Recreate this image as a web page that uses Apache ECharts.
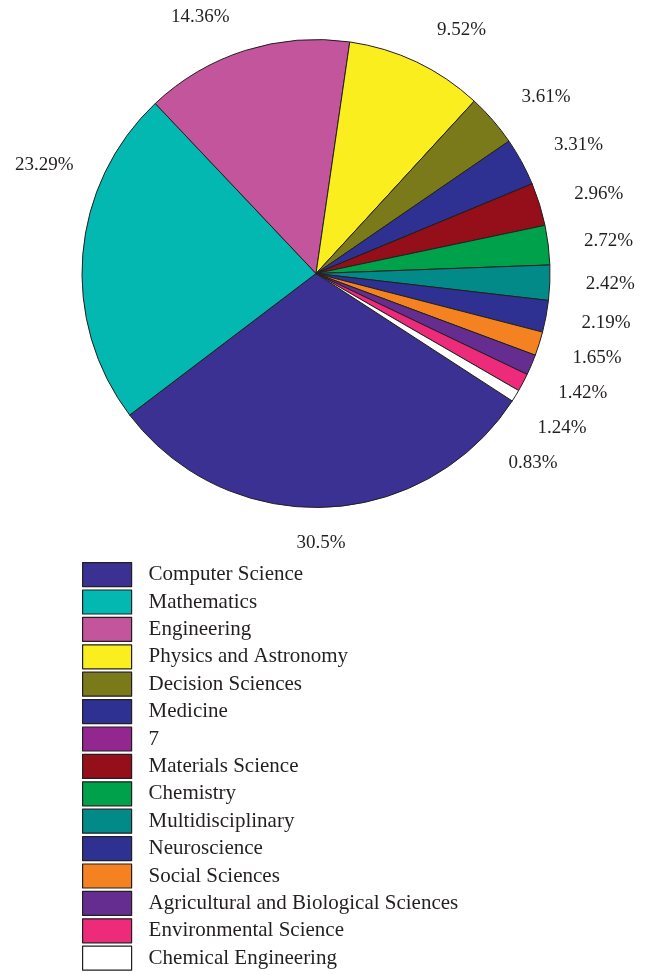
<!DOCTYPE html>
<html>
<head>
<meta charset="utf-8">
<script src="https://cdn.jsdelivr.net/npm/echarts@6/dist/echarts.min.js"></script>
<style>
  html, body { margin: 0; padding: 0; background: #ffffff; }
  #chart { width: 659px; height: 975px; }
</style>
</head>
<body>
<div id="chart"></div>
<script>
// Subject areas and their share of publications (%)
const subjects = [
  'Computer Science', 'Mathematics', 'Engineering', 'Physics and Astronomy',
  'Decision Sciences', 'Medicine', '7', 'Materials Science', 'Chemistry',
  'Multidisciplinary', 'Neuroscience', 'Social Sciences',
  'Agricultural and Biological Sciences', 'Environmental Science', 'Chemical Engineering'
];
const shares = [30.5, 23.29, 14.36, 9.52, 3.61, 3.31, 0, 2.96, 2.72, 2.42, 2.19, 1.65, 1.42, 1.24, 0.83];
const sliceColors = [
  '#3a3192', '#02b8b0', '#c2559c', '#fbee1f', '#7b7a1b', '#2e3192', '#92278f',
  '#940f1a', '#00a14b', '#028a89', '#2e3192', '#f58220', '#662d91', '#ee2a7b', '#ffffff'
];

const INK = '#231f20';
const SERIF = '"Liberation Serif", "Times New Roman", serif';

// pie geometry
const CX = 316, CY = 273.5, R = 234;
const LABEL_GAP = 35;     // space between rim and a label that had to be moved
const EDGE_MARGIN = 15;   // labels keep this far from the canvas edge

const pieData = subjects.map((name, i) => ({
  name: name,
  value: shares[i],
  itemStyle: { color: sliceColors[i] },
  label: { show: shares[i] > 0 }
}));

const chart = echarts.init(document.getElementById('chart'), null, { renderer: 'canvas' });

chart.setOption({
  backgroundColor: '#ffffff',
  animation: false,
  legend: {
    orient: 'vertical',
    left: 82,
    top: 562,
    padding: 0,
    itemWidth: 49,
    itemHeight: 24,
    itemGap: 2.2,
    icon: 'rect',
    selectedMode: false,
    itemStyle: { borderColor: INK, borderWidth: 1.2 },
    textStyle: {
      fontFamily: SERIF,
      fontSize: 21,
      lineHeight: 22,
      color: INK,
      padding: [0, 0, 0, 12]
    },
    data: subjects
  },
  series: [{
    type: 'pie',
    center: [CX, CY],
    radius: [0, R],
    startAngle: 327,
    clockwise: true,
    avoidLabelOverlap: true,
    itemStyle: { borderColor: INK, borderWidth: 1 },
    emphasis: { disabled: true },
    label: {
      show: true,
      position: 'outside',
      formatter: p => p.value + '%',
      fontFamily: SERIF,
      fontSize: 19,
      lineHeight: 33,
      overflow: 'none',
      color: INK
    },
    labelLine: { show: false, length: 36, length2: 0 },
    labelLayout: function (p) {
      const host = p.rect, box = p.labelRect;
      // a label that would be cut off at the left edge slides along the rim
      if (box.x < EDGE_MARGIN) {
        const right = EDGE_MARGIN + box.width;
        const dx = CX - (right + LABEL_GAP);
        const dy = Math.sqrt(Math.max(R * R - dx * dx, 0));
        const up = box.y + box.height / 2 < CY;
        return { align: 'right', verticalAlign: 'middle', x: right, y: up ? CY - dy : CY + dy };
      }
      // a label lying wholly under the slice it names is centred on that slice
      const withinX = box.x >= host.x && box.x + box.width <= host.x + host.width;
      if (withinX && box.y > host.y + host.height - 4) {
        return { align: 'center', x: host.x + host.width / 2 };
      }
      return {};
    },
    data: pieData
  }]
});
</script>
</body>
</html>
